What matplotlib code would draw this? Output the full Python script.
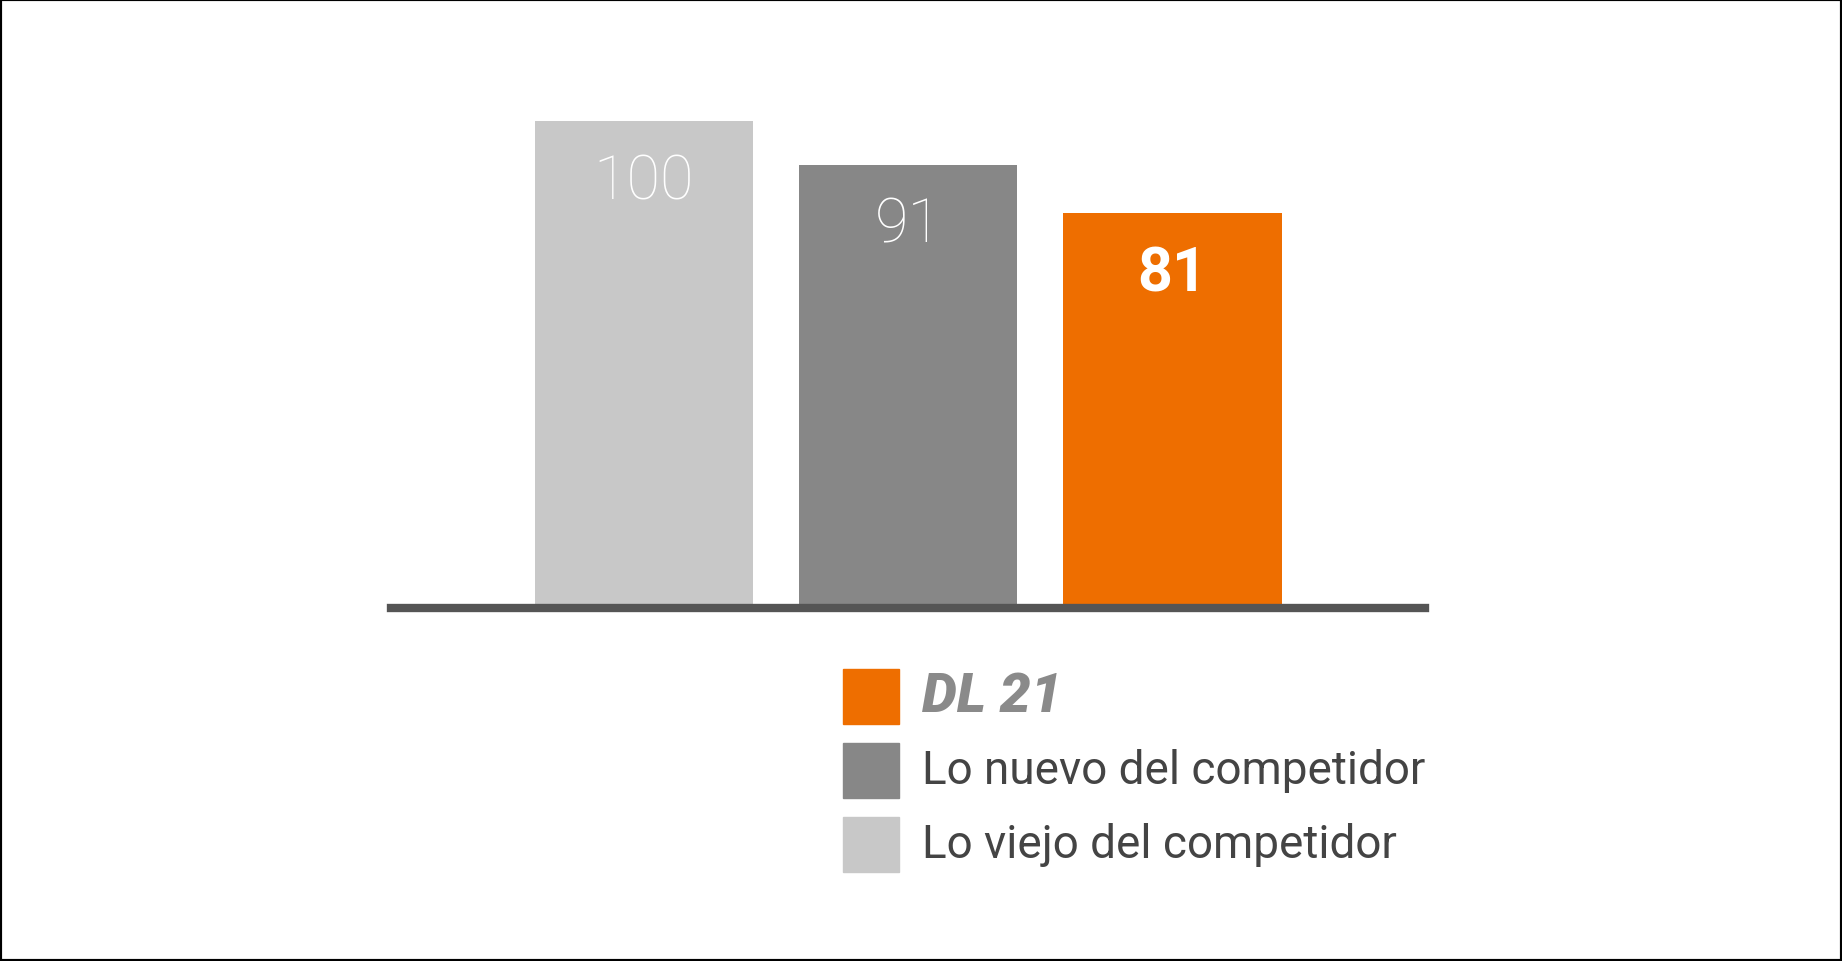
import matplotlib.pyplot as plt
from matplotlib.patches import Rectangle

labels = ["Lo viejo del competidor", "Lo nuevo del competidor", "DL 21"]
values = [100, 91, 81]
colors = ["#c8c8c8", "#878787", "#ee6e00"]
weights = ["light", "light", "bold"]

W, H = 1568, 819  # layout measured in reference units
fig = plt.figure(figsize=(18.42, 9.62), dpi=100)
fig.patches.append(Rectangle((0, 0), 1, 1, transform=fig.transFigure,
                             fill=False, edgecolor="black", linewidth=3))

ax = fig.add_axes([333 / W, 1 - 515 / H, 880 / W, (515 - 104) / H])
x = range(len(values))
ax.bar(x, values, width=0.827, color=colors)
ax.set_xlim(-0.956, 2.956)
ax.set_ylim(0, 100)
ax.axhline(-0.8, color="#555555", linewidth=6, clip_on=False)
for i, v in enumerate(values):
    ax.text(i, v - 12.5, str(v), ha="center", va="center", color="white",
            fontsize=44, family="Roboto", fontweight=weights[i])
ax.axis("off")

# legend, top to bottom: DL 21, new, old
rows = [593, 656, 719]
for row, idx in zip(rows, [2, 1, 0]):
    fig.patches.append(Rectangle((718 / W, 1 - (row + 24) / H), 47 / W, 47 / H,
                                 transform=fig.transFigure, color=colors[idx]))
    if idx == 2:
        fig.text(785 / W, 1 - row / H, labels[idx], va="center", ha="left",
                 fontsize=40, family="Roboto", fontweight="black",
                 style="italic", color="#8a8a8a")
    else:
        fig.text(785 / W, 1 - row / H, labels[idx], va="center", ha="left",
                 fontsize=33, family="Roboto", color="#444444")

fig.savefig("out.png", dpi=100)
